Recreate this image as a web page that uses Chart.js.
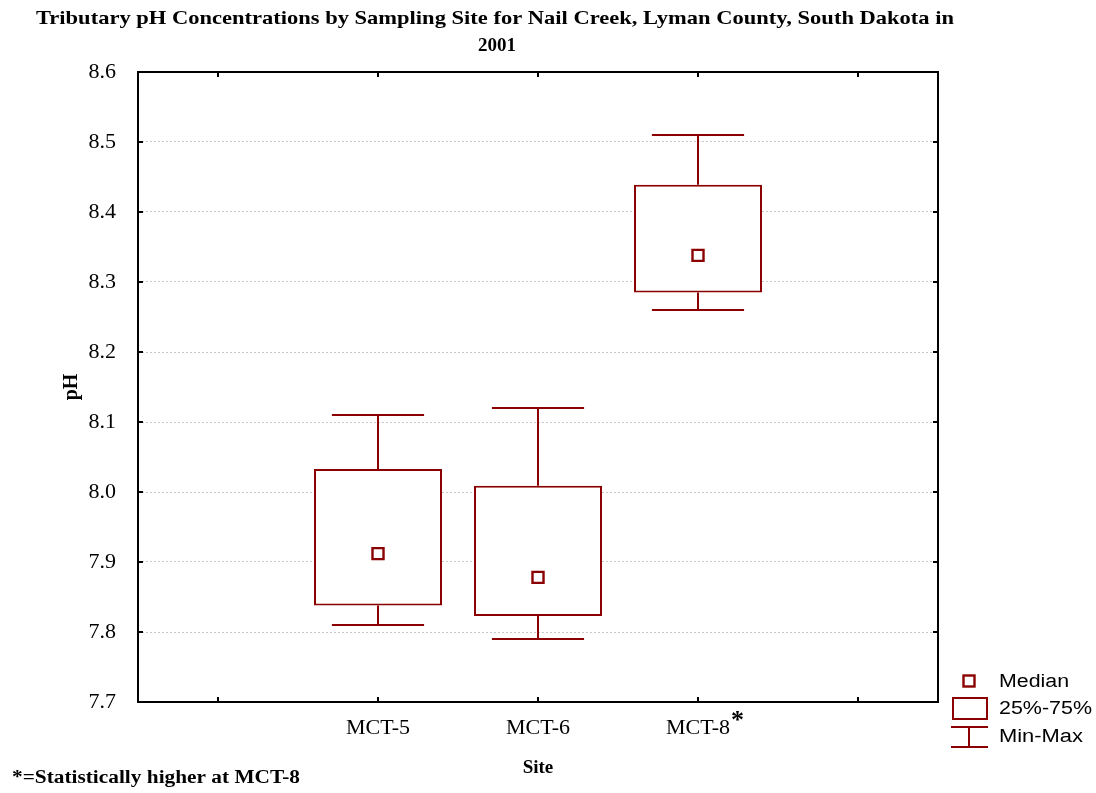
<!DOCTYPE html>
<html>
<head>
<meta charset="utf-8">
<script src="https://cdn.jsdelivr.net/npm/chart.js@4.4.0/dist/chart.umd.min.js"></script>
<style>
  html, body { margin: 0; padding: 0; background: #ffffff; }
  #c { display: block; }
</style>
</head>
<body>
<canvas id="c" width="1096" height="793"></canvas>
<script>
// Sites along the x axis (empty slots pad both ends of the axis)
const sites = ['', 'MCT-5', 'MCT-6', 'MCT-8', ''];

// pH summary per site
const minVals    = [null, 7.81,  7.79,  8.26,  null];
const q1Vals     = [null, 7.838, 7.823, 8.285, null];
const medianVals = [null, 7.912, 7.878, 8.338, null];
const q3Vals     = [null, 8.033, 8.009, 8.439, null];
const maxVals    = [null, 8.11,  8.12,  8.51,  null];

// y axis range and tick step
const yMin = 7.7;
const yMax = 8.6;
const yStep = 0.1;

const titleLines = ['Tributary pH Concentrations by Sampling Site for Nail Creek, Lyman County, South Dakota in', '2001'];
const yTitle = 'pH';
const xTitle = 'Site';
const footnote = '*=Statistically higher at MCT-8';
const starredSite = 'MCT-8';
const legendLabels = ['Median', '25%-75%', 'Min-Max'];

const DARK = '#8b0000';
const SERIF = '"Liberation Serif", "Times New Roman", serif';
const SANS = '"Liberation Sans", Arial, sans-serif';

// draw text, optionally stretched horizontally to a given width
function drawText(ctx, text, x, y, font, width, align, baseline) {
  ctx.save();
  ctx.font = font;
  ctx.fillStyle = '#000';
  ctx.textBaseline = baseline || 'middle';
  const w = ctx.measureText(text).width;
  const sx = width ? width / w : 1;
  ctx.translate(x, y);
  ctx.scale(sx, 1);
  ctx.textAlign = align || 'left';
  ctx.fillText(text, 0, 0);
  ctx.restore();
}

function line(ctx, x1, y1, x2, y2) {
  ctx.beginPath();
  ctx.moveTo(x1, y1);
  ctx.lineTo(x2, y2);
  ctx.stroke();
}

// whiskers: vertical stems from the box edges plus end caps
const whiskerPlugin = {
  id: 'whiskers',
  afterDatasetsDraw(chart) {
    const ctx = chart.ctx;
    const meta = chart.getDatasetMeta(0);
    const ys = chart.scales.y;
    ctx.save();
    ctx.strokeStyle = DARK;
    ctx.lineWidth = 2;
    sites.forEach((s, i) => {
      if (maxVals[i] == null) return;
      const bar = meta.data[i];
      const x = Math.round(bar.x);
      const half = bar.width * 0.36;
      const pMax = ys.getPixelForValue(maxVals[i]);
      const pMin = ys.getPixelForValue(minVals[i]);
      const pQ3 = ys.getPixelForValue(q3Vals[i]);
      const pQ1 = ys.getPixelForValue(q1Vals[i]);
      line(ctx, x, pQ3, x, pMax);
      line(ctx, x - half, pMax, x + half, pMax);
      line(ctx, x, pQ1, x, pMin);
      line(ctx, x - half, pMin, x + half, pMin);
    });
    ctx.restore();
  }
};

// frame, inward tick marks, titles, footnote and legend
const decorPlugin = {
  id: 'decor',
  afterDraw(chart) {
    const ctx = chart.ctx;
    const a = chart.chartArea;
    const xs = chart.scales.x;
    const ys = chart.scales.y;

    ctx.save();
    ctx.strokeStyle = '#000';
    ctx.lineWidth = 2;
    ctx.setLineDash([]);
    ctx.strokeRect(a.left, a.top, a.right - a.left, a.bottom - a.top);

    const tick = 5;
    ys.ticks.forEach((t) => {
      const y = Math.round(ys.getPixelForValue(t.value));
      line(ctx, a.left, y, a.left + tick, y);
      line(ctx, a.right, y, a.right - tick, y);
    });
    sites.forEach((s, i) => {
      const x = Math.round(xs.getPixelForValue(i));
      line(ctx, x, a.top, x, a.top + tick);
      line(ctx, x, a.bottom, x, a.bottom - tick);
    });
    ctx.restore();

    // title
    drawText(ctx, titleLines[0], 495, 19, 'bold 19px ' + SERIF, 918, 'center');
    drawText(ctx, titleLines[1], 497, 46, 'bold 19px ' + SERIF, null, 'center');

    // axis titles
    ctx.save();
    ctx.translate(72, (a.top + a.bottom) / 2);
    ctx.rotate(-Math.PI / 2);
    drawText(ctx, yTitle, 0, 0, 'bold 20px ' + SERIF, null, 'center');
    ctx.restore();
    drawText(ctx, xTitle, (a.left + a.right) / 2, 768, 'bold 19px ' + SERIF, null, 'center');

    // asterisk beside the starred site label
    const idx = sites.indexOf(starredSite);
    ctx.save();
    ctx.font = '22px ' + SERIF;
    const lw = ctx.measureText(starredSite).width;
    ctx.restore();
    drawText(ctx, '*', xs.getPixelForValue(idx) + lw / 2 + 1, 708, 'bold 26px ' + SERIF, null, 'left', 'top');

    // footnote
    drawText(ctx, footnote, 12, 778, 'bold 18px ' + SERIF, 288, 'left');

    // legend
    ctx.save();
    ctx.strokeStyle = DARK;
    ctx.lineWidth = 2.4;
    ctx.fillStyle = '#fff';
    ctx.fillRect(963.5, 675.5, 11, 11);
    ctx.strokeRect(963.5, 675.5, 11, 11);
    ctx.lineWidth = 2;
    ctx.strokeRect(953, 698, 34, 21);
    line(ctx, 951, 727, 988, 727);
    line(ctx, 951, 747, 988, 747);
    line(ctx, 969, 727, 969, 747);
    ctx.restore();
    drawText(ctx, legendLabels[0], 999, 682, '18px ' + SANS, 70, 'left');
    drawText(ctx, legendLabels[1], 999, 709, '18px ' + SANS, 93, 'left');
    drawText(ctx, legendLabels[2], 999, 737, '18px ' + SANS, 84, 'left');
  }
};

const boxData = sites.map((s, i) => (q1Vals[i] == null ? null : [q1Vals[i], q3Vals[i]]));

new Chart(document.getElementById('c'), {
  type: 'bar',
  data: {
    labels: sites,
    datasets: [
      {
        type: 'bar',
        label: legendLabels[1],
        data: boxData,
        backgroundColor: '#ffffff',
        borderColor: DARK,
        borderWidth: 2,
        borderSkipped: false,
        barPercentage: 0.8,
        categoryPercentage: 1.0,
        order: 2
      },
      {
        type: 'line',
        label: legendLabels[0],
        data: medianVals,
        showLine: false,
        pointStyle: 'rect',
        pointRadius: 7.8,
        pointBorderWidth: 2.4,
        pointBorderColor: DARK,
        pointBackgroundColor: '#ffffff',
        order: 1
      }
    ]
  },
  options: {
    responsive: false,
    animation: false,
    devicePixelRatio: 1,
    layout: { padding: { left: 0, top: 72, right: 158, bottom: 0 } },
    plugins: {
      legend: { display: false },
      tooltip: { enabled: false },
      title: { display: false }
    },
    scales: {
      x: {
        type: 'category',
        offset: true,
        grid: { display: false, drawTicks: false },
        border: { display: false },
        ticks: {
          color: '#000',
          font: { family: SERIF, size: 22 },
          padding: 13,
          maxRotation: 0,
          autoSkip: false
        },
        afterFit(scale) { scale.height = 91; }
      },
      y: {
        type: 'linear',
        min: yMin,
        max: yMax,
        grid: {
          drawTicks: false,
          lineWidth: 1,
          color: (c) => (c.tick && (Math.abs(c.tick.value - yMin) < 1e-6 || Math.abs(c.tick.value - yMax) < 1e-6)) ? 'rgba(0,0,0,0)' : '#c8c8c8'
        },
        border: { display: false, dash: [2, 2] },
        ticks: {
          stepSize: yStep,
          color: '#000',
          font: { family: SERIF, size: 22 },
          padding: 22,
          callback: (v) => Number(v).toFixed(1)
        },
        afterFit(scale) { scale.width = 138; }
      }
    }
  },
  plugins: [whiskerPlugin, decorPlugin]
});
</script>
</body>
</html>
